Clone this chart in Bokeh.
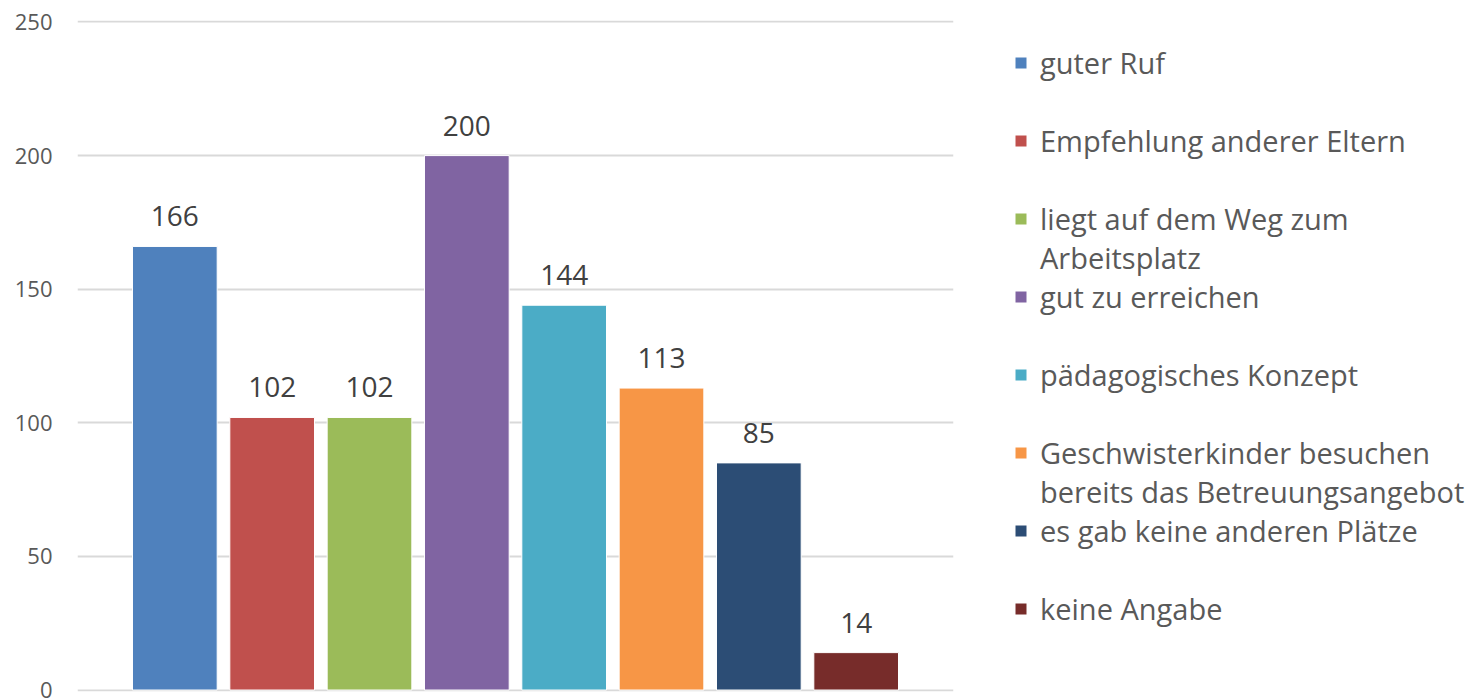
from bokeh.plotting import figure
from bokeh.models import Range1d, Legend, LegendItem, ColumnDataSource, FixedTicker
from bokeh.core.properties import value
from bokeh.embed import file_html
from bokeh.resources import INLINE

categories = [
    "guter Ruf",
    "Empfehlung anderer Eltern",
    "liegt auf dem Weg zum\nArbeitsplatz",
    "gut zu erreichen",
    "pädagogisches Konzept",
    "Geschwisterkinder besuchen\nbereits das Betreuungsangebot",
    "es gab keine anderen Plätze",
    "keine Angabe",
]
counts = [166, 102, 102, 200, 144, 113, 85, 14]
colors = ["#4F81BD", "#C0504D", "#9BBB59", "#8064A2", "#4BACC6", "#F79646", "#2C4D75", "#772C2A"]
y_ticks = [0, 50, 100, 150, 200, 250]

FONT = "Open Sans"

src = ColumnDataSource(dict(
    x=list(range(len(categories))),
    top=counts,
    color=colors,
    label=[str(c) for c in counts],
))

p = figure(
    width=1484, height=700,
    frame_width=876, frame_height=671,
    x_range=Range1d(-1.0, 8.0), y_range=Range1d(-0.55, 250.55),
    output_backend="svg", toolbar_location=None,
    x_axis_location=None,
    min_border_left=77, min_border_top=20, min_border_bottom=9, min_border_right=531,
)
p.outline_line_color = None
p.background_fill_color = "white"
p.border_fill_color = "white"

p.xgrid.grid_line_color = None
p.ygrid.grid_line_color = "#D9D9D9"
p.ygrid.grid_line_width = 2
p.ygrid.ticker = FixedTicker(ticks=y_ticks)

ax = p.yaxis[0]
ax.ticker = FixedTicker(ticks=y_ticks)
ax.axis_line_color = None
ax.major_tick_line_color = None
ax.minor_tick_line_color = None
ax.major_tick_out = 0
ax.major_tick_in = 0
ax.major_label_standoff = 25
ax.major_label_text_font = FONT
ax.major_label_text_font_size = "22px"
ax.major_label_text_color = "#595959"

bars = p.vbar(x="x", top="top", width=0.87, bottom=0, source=src,
              fill_color="color", line_color="white", line_width=1)

p.text(x="x", y="top", text="label", source=src,
       text_align="center", text_baseline="middle", y_offset=-30,
       text_font=value(FONT), text_font_size="28px", text_color="#404040")

# invisible renderer: carries continuation lines / spacer rows of the legend
ghost = p.scatter(x=[], y=[], fill_alpha=0, line_alpha=0)

items = []
for i, c in enumerate(categories):
    lines = c.split("\n")
    items.append(LegendItem(label=lines[0], renderers=[bars], index=i))
    if i == len(categories) - 1:
        break
    if len(lines) > 1:
        items.append(LegendItem(label=lines[1], renderers=[ghost]))
    else:
        items.append(LegendItem(label=" ", renderers=[ghost]))

legend = Legend(
    items=items,
    location=(60, 63),
    orientation="vertical",
    glyph_width=15, glyph_height=15,
    label_standoff=12,
    label_height=39,
    spacing=0,
    padding=0, margin=0,
    border_line_color=None,
    background_fill_alpha=0,
    label_text_font=FONT,
    label_text_font_size="29px",
    label_text_color="#595959",
)
p.add_layout(legend, "right")

open("out.html", "w").write(file_html(p, INLINE))
